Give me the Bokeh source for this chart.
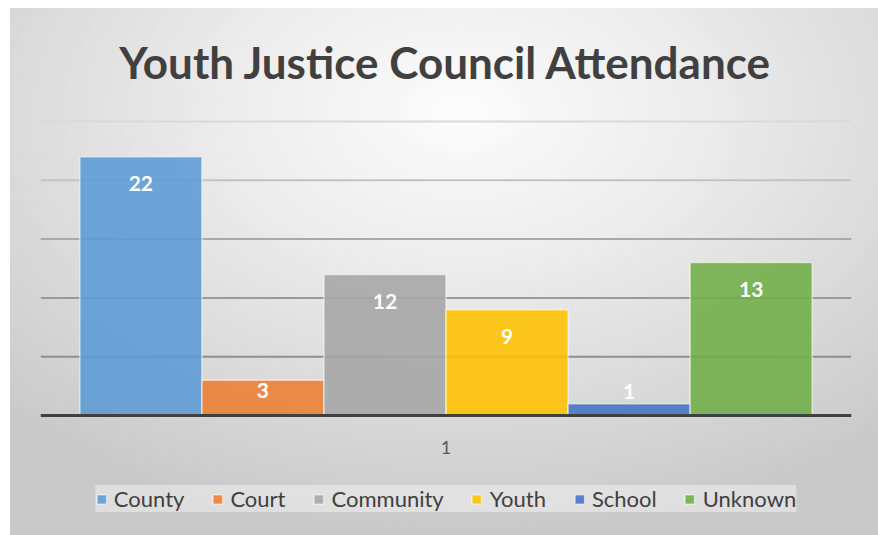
from bokeh.plotting import figure
from bokeh.models import ColumnDataSource, LabelSet, Label, Span, Range1d
from bokeh.core.properties import value
from bokeh.embed import file_html
from bokeh.resources import INLINE

chart_title = "Youth Justice Council Attendance"
categories = ["County", "Court", "Community", "Youth", "School", "Unknown"]
counts = [22, 3, 12, 9, 1, 13]
group_label = "1"
y_ticks = [5, 10, 15, 20, 25]

colors = ["#5B9BD5", "#ED7D31", "#A5A5A5", "#FFC000", "#4472C4", "#70AD47"]
grid_colors = ["#8f8f8f", "#9a9a9a", "#a9a9a9", "#c2c2c2", "#d9d9d9"]
BAR_W = 0.1505
FONT = "Lato"

# layout (pixels): the frame covers the full height; value 0 sits at BASE_Y,
# the top gridline at GRID_TOP
W, H = 878, 535
GRID_TOP, BASE_Y = 121, 415
px_per_unit = (BASE_Y - GRID_TOP) / y_ticks[-1]
y_end = y_ticks[-1] + GRID_TOP / px_per_unit
y_start = -(H - BASE_Y) / px_per_unit

n = len(categories)
xs = [0.5 + (i - (n - 1) / 2) * BAR_W for i in range(n)]
offsets = [-27 if v >= 5 else (-10 if v >= 2 else 12) for v in counts]
src = ColumnDataSource(dict(x=xs, top=counts, cat=categories, color=colors,
                            lab=[str(v) for v in counts], off=offsets))

p = figure(width=W, height=H, x_range=Range1d(0, 1), y_range=Range1d(y_start, y_end),
           output_backend="svg", toolbar_location=None,
           min_border_left=40, min_border_right=27, min_border_top=0, min_border_bottom=0)
p.styles = {
    "background-color": "white",
    "background-image": "radial-gradient(ellipse 75% 80% at 52% 20%, #fcfcfc 0%, #ededed 35%, #dadada 70%, #c9c9c9 100%)",
    "background-position": "10px 8px",
    "background-size": "868px 527px",
    "background-repeat": "no-repeat",
}
p.border_fill_color = None
p.background_fill_color = None
p.outline_line_color = None
p.grid.grid_line_color = None
p.xaxis.visible = False
p.yaxis.visible = False

for yv, gc in zip(y_ticks, grid_colors):
    p.add_layout(Span(location=yv, dimension="width", line_color=gc, line_width=2, level="underlay"))

p.vbar(x="x", top="top", bottom=0, width=BAR_W, source=src, fill_color="color", fill_alpha=0.88,
       line_color="white", line_alpha=0.55, line_width=1.5, legend_field="cat")

# category axis baseline and its single label
p.add_layout(Span(location=0, dimension="width", line_color="#404040", line_width=3))
p.add_layout(Label(x=0.5, y=0, text=group_label, y_offset=-32, text_align="center",
                   text_baseline="middle", text_font=FONT, text_font_size="18px",
                   text_color="#595959"))

labels = LabelSet(x="x", y="top", text="lab", source=src, y_offset="off",
                  text_align="center", text_baseline="middle", text_color="white",
                  text_font=value(FONT), text_font_style="bold", text_font_size="21px")
p.add_layout(labels)

# chart title
p.add_layout(Label(x=0.5, y=y_end, text=chart_title, y_offset=-61, text_align="center",
                   text_baseline="alphabetic", text_font=FONT, text_font_style="bold",
                   text_font_size="44px", text_color="#404040"))

legend = p.legend[0]
legend.orientation = "horizontal"
legend.location = "bottom_center"
legend.margin = 23
legend.label_text_font = FONT
legend.label_text_font_size = "22px"
legend.label_text_color = "#404040"
legend.label_height = 24
legend.glyph_width = 12
legend.glyph_height = 12
legend.label_standoff = 7
legend.spacing = 27
legend.padding = 11
legend.border_line_color = None
legend.background_fill_color = "white"
legend.background_fill_alpha = 0.4

open("out.html", "w").write(file_html(p, INLINE))
